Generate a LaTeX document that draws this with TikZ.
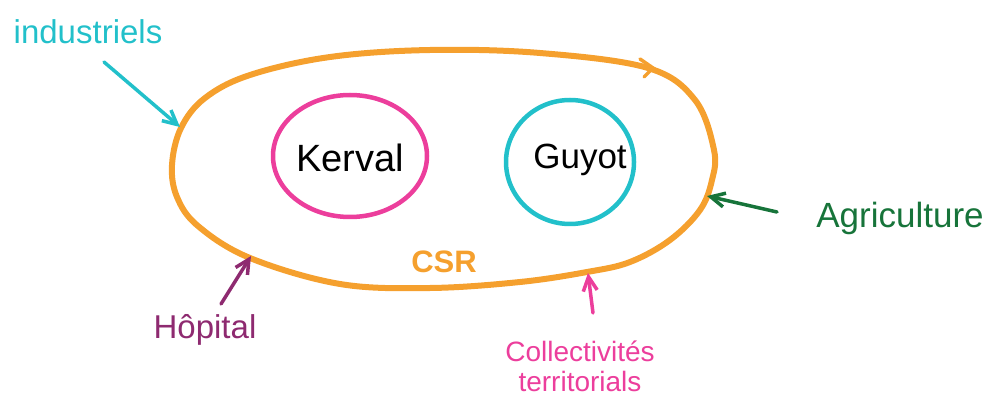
\documentclass[tikz,border=0pt]{standalone}
\usepackage{fontspec}
\setmainfont{Liberation Sans}
\usetikzlibrary{arrows.meta}
\definecolor{corange}{HTML}{F5A02E}
\definecolor{cpink}{HTML}{EC3E9C}
\definecolor{ccyan}{HTML}{22C0CA}
\definecolor{cgreen}{HTML}{17743A}
\definecolor{cpurple}{HTML}{8E2A70}
\tikzset{
  lbl/.style={inner sep=0pt, font=\fontsize{28}{30}\selectfont},
  ptr/.style={line width=3.5pt, line cap=round, -{Straight Barb[length=14pt,width=14pt,line width=3.5pt]}},
  ring/.style={line width=4.5pt},
}
\begin{document}
\begin{tikzpicture}[x=1pt,y=-1pt]
\useasboundingbox (0,0) rectangle (990,403);
% main CSR loop
\draw[corange, line width=6pt] plot[smooth cycle, tension=0.6] coordinates {
 (172,165) (181,128) (205,98) (250,75) (330,57) (430,50) (540,53) (648,68)
 (695,100) (714,150) (712,180) (700,210) (670,240) (630,262) (587,272)
 (520,282) (430,288) (340,284) (250,258) (198,226) (177,197)};
\draw[corange, line width=3.5pt, line cap=round] (640,59) -- (653,68) -- (644,77);
% inner circles
\draw[cpink, ring] (350,156) ellipse [x radius=77, y radius=61];
\draw[ccyan, ring] (570,162) ellipse [x radius=64, y radius=62];
\node[lbl, font=\fontsize{38}{40}\selectfont] (kerval) at (350,158) {Kerval};
\node[lbl, font=\fontsize{35}{37}\selectfont] (guyot) at (580,160) {Guyot};
\node[lbl, text=corange, font=\bfseries\fontsize{31}{33}\selectfont] (csr) at (444,262) {CSR};
% outer labels
\node[lbl, text=ccyan, font=\fontsize{33}{35}\selectfont] (ind) at (88,32) {industriels};
\node[lbl, text=cgreen, font=\fontsize{35}{37}\selectfont] (agri) at (900,218) {Agriculture};
\node[lbl, text=cpurple, font=\fontsize{33}{35}\selectfont] (hop) at (205,330) {Hôpital};
\node[lbl, text=cpink, align=center] (coll) at (580,366) {Collectivités\\territorials};
% pointer ends
\coordinate (indE) at (180,127);
\coordinate (agriE) at (707,196);
\coordinate (hopE) at (251,256);
\coordinate (collE) at (588,273);
\coordinate (indS) at (104,62);
\coordinate (agriS) at (777,212);
\coordinate (hopS) at (221,304);
\coordinate (collS) at (593,313);
\draw[ptr, ccyan] (indS) -- (indE);
\draw[ptr, cgreen] (agriS) -- (agriE);
\draw[ptr, cpurple] (hopS) -- (hopE);
\draw[ptr, cpink] (collS) -- (collE);
\end{tikzpicture}
\end{document}
